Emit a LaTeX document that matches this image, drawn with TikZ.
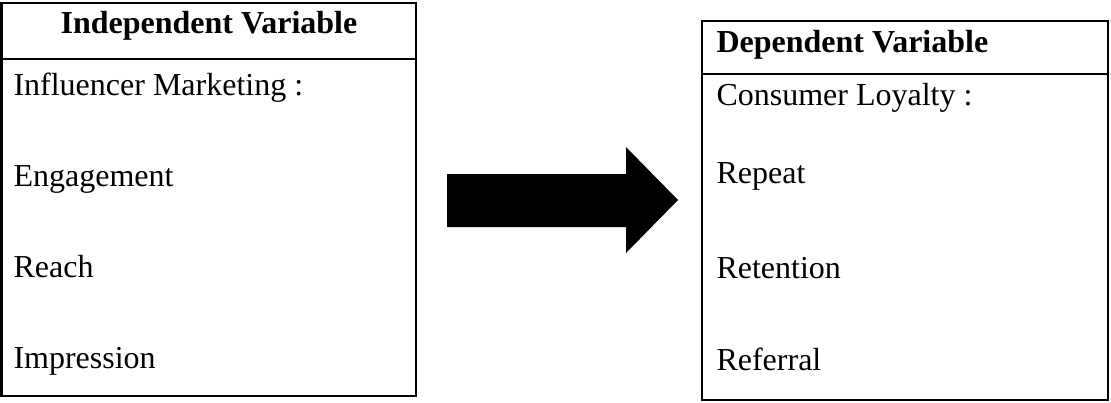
\documentclass[tikz,border=0pt]{standalone}
\usepackage{fontspec}
\setmainfont{Liberation Serif}

\begin{document}
\begin{tikzpicture}[x=0.375pt, y=-0.375pt, line join=miter]

% --- Styles ---
\tikzset{
    varbox/.style={
        draw=black,
        line width=1pt
    },
    headline/.style={
        draw=black,
        line width=1pt
    },
    titletext/.style={
        anchor=base,
        inner sep=0pt,
        font=\fontsize{12}{14}\selectfont\bfseries
    },
    lefttitle/.style={
        titletext,
        anchor=base west
    },
    itemtext/.style={
        anchor=base west,
        inner sep=0pt,
        font=\fontsize{12}{14}\selectfont
    },
    fatarrow/.style={
        fill=black,
        draw=none
    }
}

\useasboundingbox (0,0) rectangle (1111,402);

% =====================================================
% --- Links: onafhankelijke variabele ---
% =====================================================
\coordinate (indepNW) at (1.5,3);
\coordinate (indepSE) at (416,396);
\coordinate (indepHead) at (0,59);

\draw[varbox] (indepNW) rectangle (indepSE);
\draw[headline] (indepNW |- indepHead) -- (indepSE |- indepHead);

\node[titletext] (indepTitle) at (209,33) {Independent Variable};

\node[itemtext] (influencer) at (13,95)  {Influencer Marketing :};
\node[itemtext] (engagement) at (13,186) {Engagement};
\node[itemtext] (reach)      at (13,277) {Reach};
\node[itemtext] (impression) at (13,368) {Impression};

% =====================================================
% --- Pijl ---
% =====================================================
\fill[fatarrow]
    (447,174) -- (626,174) -- (626,147) -- (678,200)
    -- (626,253) -- (626,227) -- (447,227) -- cycle;

% =====================================================
% --- Rechts: afhankelijke variabele ---
% =====================================================
\coordinate (depNW) at (702,21);
\coordinate (depSE) at (1108,400);
\coordinate (depHead) at (0,74);

\draw[varbox] (depNW) rectangle (depSE);
\draw[headline] (depNW |- depHead) -- (depSE |- depHead);

\node[lefttitle] (depTitle) at (716,52) {Dependent Variable};

\node[itemtext] (loyalty)   at (716,105) {Consumer Loyalty :};
\node[itemtext] (repeat)    at (716,183) {Repeat};
\node[itemtext] (retention) at (716,278) {Retention};
\node[itemtext] (referral)  at (716,370) {Referral};

\end{tikzpicture}
\end{document}
